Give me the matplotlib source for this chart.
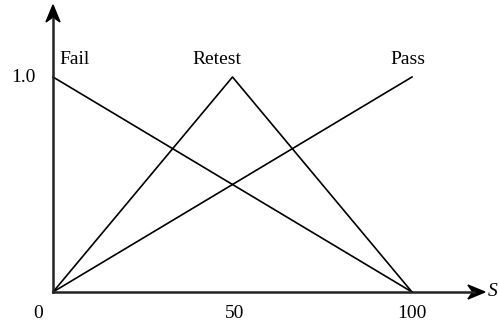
import matplotlib.pyplot as plt
from matplotlib.patches import Polygon

plt.rcParams['font.family'] = ['Liberation Serif', 'DejaVu Serif']

# membership functions over the score S
fail_x = [0, 100]
fail_y = [1.0, 0.0]
retest_x = [0, 50, 100]
retest_y = [0.0, 1.0, 0.0]
pass_x = [0, 100]
pass_y = [0.0, 1.0]

names = ['Fail', 'Retest', 'Pass']
name_x = [6, 45.7, 98.9]
xticks = [0, 50, 100]
xtick_labels = ['0', '50', '100']

W, H = 499, 328
fig = plt.figure(figsize=(W / 100, H / 100), dpi=100)
# data x 0..100 -> px 53..412, y 0..1 -> px 292..77 (from top)
ax = fig.add_axes([53 / W, 36 / H, 359 / W, 215 / H])
ax.set_xlim(0, 100)
ax.set_ylim(0, 1)
ax.axis('off')

lw = 1.2
ax.plot(fail_x, fail_y, color='black', lw=lw, clip_on=False)
ax.plot(retest_x, retest_y, color='black', lw=lw, clip_on=False)
ax.plot(pass_x, pass_y, color='black', lw=lw, clip_on=False)

# axes with stealth-style arrowheads
x_end = 120.3
y_end = 1.335
ax.plot([0, x_end - 3], [0, 0], color='#222222', lw=1.8, clip_on=False)
ax.plot([0, 0], [0, y_end - 0.06], color='#222222', lw=1.8, clip_on=False)

sx = 100 / 359   # data units per pixel, x
sy = 1 / 215     # data units per pixel, y
head_x = Polygon([(x_end, 0), (x_end - 17 * sx, 7 * sy), (x_end - 12 * sx, 0),
                  (x_end - 17 * sx, -7 * sy)], closed=True, color='black', clip_on=False)
head_y = Polygon([(0, y_end), (7 * sx, y_end - 17 * sy), (0, y_end - 12 * sy),
                  (-7 * sx, y_end - 17 * sy)], closed=True, color='black', clip_on=False)
ax.add_patch(head_x)
ax.add_patch(head_y)

fs = 14
for n, x in zip(names, name_x):
    ax.text(x, 1.08, n, fontsize=fs, ha='center', va='center')
for t, lab in zip(xticks, xtick_labels):
    ax.text(t - (4.2 if t == 0 else 0) + (0.6 if t == 50 else 0), -0.1, lab,
            fontsize=fs, ha='center', va='center')
ax.text(-8.3, 1.0, '1.0', fontsize=fs, ha='center', va='center')
ax.text(121.0, 0, 'S', fontsize=fs, style='italic', ha='left', va='center')

fig.savefig('out.png', dpi=100)
